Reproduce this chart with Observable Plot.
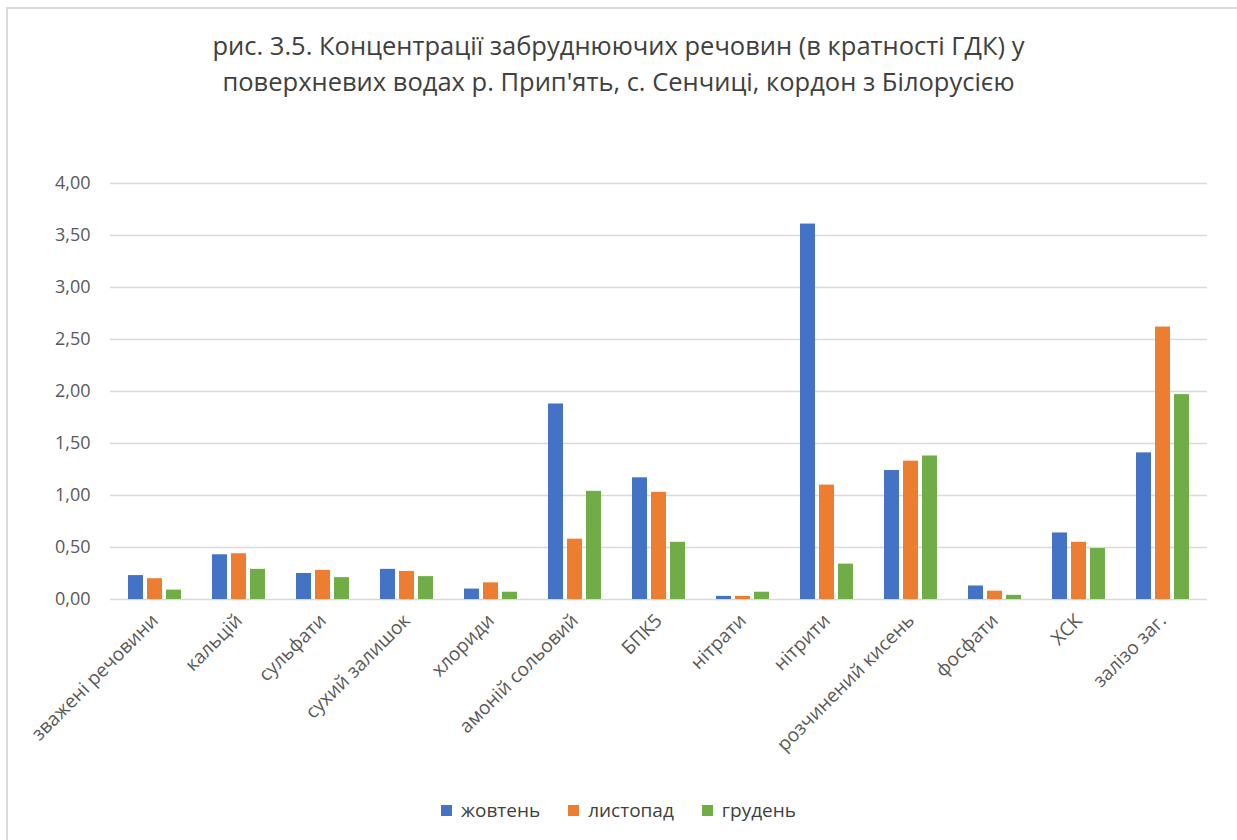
<!DOCTYPE html>
<html>
<head>
<meta charset="utf-8">
<script src="https://cdn.jsdelivr.net/npm/d3@7"></script>
<script src="https://cdn.jsdelivr.net/npm/@observablehq/plot@0.6"></script>
<style>
  html, body { margin: 0; padding: 0; background: #fff; width: 1237px; height: 840px; overflow: hidden; }
  body { font-family: "Open Sans", "Noto Sans", sans-serif; position: relative; }
  #frame { position: absolute; left: 6px; top: 7px; width: 1300px; height: 900px;
           border-top: 2px solid #d9d9d9; border-left: 2px solid #d9d9d9; box-sizing: border-box; }
  #title { position: absolute; left: 0; top: 27px; width: 1237px; text-align: center;
           font-size: 25.5px; line-height: 36px; color: #404040; }
  #chart { position: absolute; left: 0; top: 150px; }
  #legend { position: absolute; left: 0; top: 796px; width: 1237px; display: flex; justify-content: center;
            gap: 28px; font-size: 19px; line-height: 28px; color: #404040; }
  .item { display: flex; align-items: center; gap: 9px; }
  .sw { width: 11px; height: 11px; display: inline-block; }
</style>
</head>
<body>
<div id="frame"></div>
<div id="title">рис. 3.5. Концентрації забруднюючих речовин (в кратності ГДК) у<br>поверхневих водах р. Прип'ять, с. Сенчиці, кордон з Білорусією</div>
<div id="chart"></div>
<div id="legend"></div>
<script>
const categories = ["зважені речовини", "кальцій", "сульфати", "сухий залишок", "хлориди", "амоній сольовий", "БПК5", "нітрати", "нітрити", "розчинений кисень", "фосфати", "ХСК", "залізо заг."];
const seriesNames = ["жовтень", "листопад", "грудень"];
const seriesColors = ["#4472C4", "#ED7D31", "#70AD47"];
const zhovten = [0.23, 0.43, 0.25, 0.29, 0.10, 1.88, 1.17, 0.03, 3.61, 1.24, 0.13, 0.64, 1.41];
const lystopad = [0.20, 0.44, 0.28, 0.27, 0.16, 0.58, 1.03, 0.03, 1.10, 1.33, 0.08, 0.55, 2.62];
const hruden = [0.09, 0.29, 0.21, 0.22, 0.07, 1.04, 0.55, 0.07, 0.34, 1.38, 0.04, 0.49, 1.97];
const yTicks = [0, 0.5, 1, 1.5, 2, 2.5, 3, 3.5, 4];

const seriesValues = [zhovten, lystopad, hruden];
const offsets = [-19, 0, 19];
const fmt = d => d3.format(".2f")(d).replace(".", ",");

const barMarks = seriesValues.map((vals, i) =>
  Plot.barY(categories.map((c, j) => ({category: c, value: vals[j]})), {
    x: "category", y: "value", dx: offsets[i], fill: seriesColors[i]
  })
);

const chart = Plot.plot({
  width: 1237,
  height: 620,
  marginLeft: 110,
  marginRight: 30,
  marginTop: 33,
  marginBottom: 171,
  style: {fontFamily: "'Open Sans', 'Noto Sans', sans-serif", fontSize: "18px", color: "#595959", background: "transparent"},
  x: {domain: categories, paddingInner: 0.82, paddingOuter: 0.41, label: null},
  y: {domain: [0, 4], label: null},
  marks: [
    Plot.gridY(yTicks, {stroke: "#d9d9d9", strokeOpacity: 1, strokeWidth: 1.5}),
    ...barMarks,
    Plot.axisY(yTicks, {tickSize: 0, tickPadding: 20, tickFormat: fmt, fontSize: 18, fill: "#595959", label: null}),
    Plot.axisX({tickSize: 0, tickRotate: -45, tickPadding: 18, fontSize: 19, fill: "#595959", label: null})
  ]
});
document.getElementById("chart").appendChild(chart);

const legend = document.getElementById("legend");
seriesNames.forEach((n, i) => {
  const item = document.createElement("div");
  item.className = "item";
  const sw = document.createElement("span");
  sw.className = "sw";
  sw.style.background = seriesColors[i];
  const t = document.createElement("span");
  t.textContent = n;
  item.appendChild(sw);
  item.appendChild(t);
  legend.appendChild(item);
});
</script>
</body>
</html>
